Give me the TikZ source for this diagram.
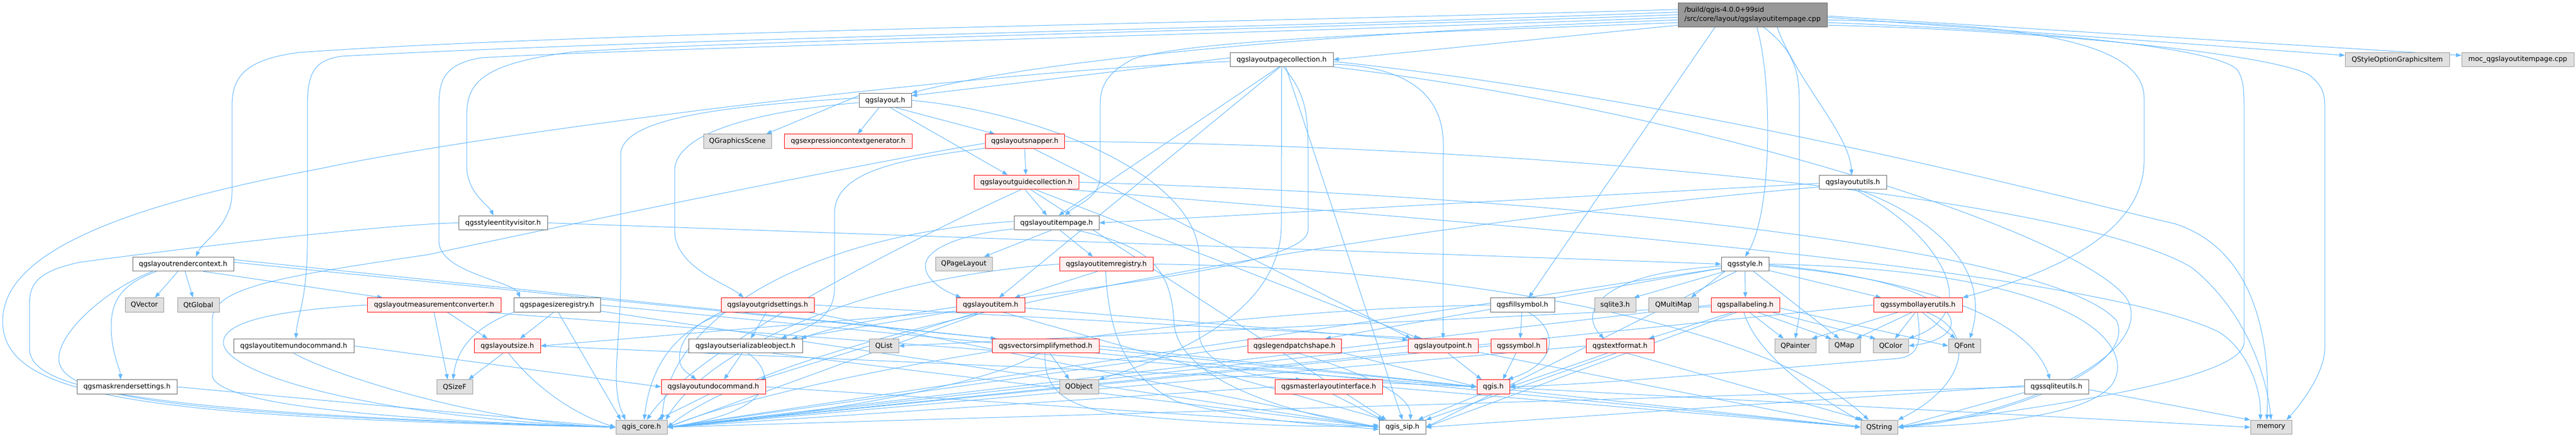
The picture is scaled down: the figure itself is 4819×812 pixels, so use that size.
\documentclass[tikz,border=0pt]{standalone}
\usepackage{fontspec}
\newfontfamily\dvs{DejaVu Sans}
\usetikzlibrary{arrows.meta,calc}
\pgfdeclarelayer{bg}
\pgfsetlayers{bg,main}
\definecolor{lc}{HTML}{63B8FF}
\definecolor{bw}{HTML}{666666}
\definecolor{bgn}{HTML}{999999}
\definecolor{fe}{HTML}{E0E0E0}
\definecolor{fr}{HTML}{FFF0F0}
\definecolor{br}{HTML}{FF0000}
\tikzset{
  nbase/.style={font=\dvs\fontsize{12.8}{15}\selectfont, inner sep=0pt, minimum height=26.5pt, line width=1pt, text=black},
  wn/.style={nbase, draw=bw, fill=white},
  rn/.style={nbase, draw=br, fill=fr},
  gn/.style={nbase, draw=bgn, fill=fe},
  mn/.style={nbase, draw=bw, fill=bgn},
  lnk/.style={draw=lc, line width=1pt, -{Triangle[length=10pt,width=7.5pt]}}
}
\begin{document}
\begin{tikzpicture}[x=1pt,y=-1pt]
\useasboundingbox (0,0) rectangle (4819,812);
% nodes
\node[mn, minimum width=279pt, minimum height=45pt, align=left, font=\dvs\fontsize{12.8}{17}\selectfont] (main) at (3278.5,27.5) {/build/qgis-4.0.0+99sid\\/src/core/layout/qgslayoutitempage.cpp};
\node[wn, minimum width=193pt] (pc) at (2397.5,111.5) {qgslayoutpagecollection.h};
\node[gn, minimum width=195pt] (qso) at (4484.5,111.5) {QStyleOptionGraphicsItem};
\node[gn, minimum width=210pt] (moc) at (4710,111.5) {moc\_qgslayoutitempage.cpp};
\node[wn, minimum width=98pt] (lay) at (1656,187.5) {qgslayout.h};
\node[gn, minimum width=127pt] (qgs) at (1379.5,264) {QGraphicsScene};
\node[rn, minimum width=239pt] (ecg) at (1586.5,264) {qgsexpressioncontextgenerator.h};
\node[rn, minimum width=148pt] (snap) at (1917,264) {qgslayoutsnapper.h};
\node[rn, minimum width=196pt] (guide) at (1920,340.5) {qgslayoutguidecollection.h};
\node[wn, minimum width=126pt] (lu) at (3466,340.5) {qgslayoututils.h};
\node[wn, minimum width=166pt] (sev) at (941,416.5) {qgsstyleentityvisitor.h};
\node[wn, minimum width=159pt] (ip) at (1976.5,416.5) {qgslayoutitempage.h};
\node[wn, minimum width=189pt] (rc) at (342.5,493.5) {qgslayoutrendercontext.h};
\node[gn, minimum width=106pt] (qpl) at (1803,493.5) {QPageLayout};
\node[rn, minimum width=175pt] (reg) at (2069.5,493.5) {qgslayoutitemregistry.h};
\node[wn, minimum width=89pt] (sty) at (3264.5,493.5) {qgsstyle.h};
\node[gn, minimum width=72pt] (qvec) at (270,570) {QVector};
\node[gn, minimum width=78pt] (qtg) at (371,570) {QtGlobal};
\node[rn, minimum width=250pt] (mc) at (812,570) {qgslayoutmeasurementconverter.h};
\node[wn, minimum width=162pt] (psr) at (1042,570) {qgspagesizeregistry.h};
\node[rn, minimum width=174pt] (grid) at (1436,570) {qgslayoutgridsettings.h};
\node[rn, minimum width=128pt] (li) at (1853,570) {qgslayoutitem.h};
\node[wn, minimum width=120pt] (fill) at (2848,570) {qgsfillsymbol.h};
\node[gn, minimum width=77pt] (sql3) at (3021.5,570) {sqlite3.h};
\node[gn, minimum width=93pt] (qmm) at (3130.5,570) {QMultiMap};
\node[rn, minimum width=128pt] (pal) at (3265,570) {qgspallabeling.h};
\node[rn, minimum width=166pt] (slu) at (3588,570) {qgssymbollayerutils.h};
\node[wn, minimum width=225pt] (iuc) at (549.5,646.5) {qgslayoutitemundocommand.h};
\node[rn, minimum width=124pt] (lsz) at (949,646.5) {qgslayoutsize.h};
\node[wn, minimum width=213pt] (ser) at (1394.5,646.5) {qgslayoutserializableobject.h};
\node[gn, minimum width=55pt] (qlist) at (1653.5,646.5) {QList};
\node[rn, minimum width=200pt] (vsm) at (1956,646.5) {qgsvectorsimplifymethod.h};
\node[rn, minimum width=175pt] (lps) at (2421.5,646.5) {qgslegendpatchshape.h};
\node[rn, minimum width=131pt] (lpt) at (2699.5,646.5) {qgslayoutpoint.h};
\node[rn, minimum width=104pt] (sym) at (2841,646.5) {qgssymbol.h};
\node[rn, minimum width=127pt] (tf) at (3030.5,646.5) {qgstextformat.h};
\node[gn, minimum width=77pt] (qpt) at (3358.5,646.5) {QPainter};
\node[gn, minimum width=59pt] (qmap) at (3450.5,646.5) {QMap};
\node[gn, minimum width=66pt] (qcol) at (3537,646.5) {QColor};
\node[gn, minimum width=60pt] (qfont) at (3675,646.5) {QFont};
\node[wn, minimum width=187pt] (mrs) at (237.5,723) {qgsmaskrendersettings.h};
\node[gn, minimum width=67pt] (qsz) at (850.5,723) {QSizeF};
\node[rn, minimum width=195pt] (luc) at (1334.5,723) {qgslayoutundocommand.h};
\node[gn, minimum width=73pt] (qobj) at (2018.5,723) {QObject};
\node[rn, minimum width=201pt] (mli) at (2485.5,723) {qgsmasterlayoutinterface.h};
\node[rn, minimum width=61pt] (qgish) at (2793.5,723) {qgis.h};
\node[wn, minimum width=120pt] (sqlu) at (3847,723) {qgssqliteutils.h};
\node[gn, minimum width=96pt] (core) at (1200,798.5) {qgis\_core.h};
\node[wn, minimum width=87pt] (sip) at (2623.5,798.5) {qgis\_sip.h};
\node[gn, minimum width=69pt] (qstr) at (3515.5,798.5) {QString};
\node[gn, minimum width=77pt] (mem) at (4248.5,798.5) {memory};

\begin{pgfonlayer}{bg}
\fill[white] (0,0) rectangle (4819,812);
% main
\draw[lnk] (main.188) -- (pc.east);
\draw[lnk] (main.184) .. controls (2500,60) and (1950,110) .. (lay.north east);
\draw[lnk] (main.176) .. controls (2200,45) and (1100,60) .. (560,98) .. controls (450,112) and (434,150) .. (434,200) -- (434,360) .. controls (434,420) and (380,450) .. ($(rc.north)+(24,0)$);
\draw[lnk] (main.178) .. controls (2300,55) and (1300,70) .. (640,105) .. controls (585,112) and (575,140) .. (575,200) -- (575,450) .. controls (575,560) and (556,590) .. ($(iuc.north)+(4,0)$);
\draw[lnk] (main.180) .. controls (2400,55) and (1400,75) .. (1072,97) .. controls (890,120) and (873,160) .. (873,220) -- (873,310) .. controls (873,360) and (915,385) .. ($(sev.north)+(-18,0)$);
\draw[lnk] (main.182) .. controls (2300,65) and (1200,90) .. (900,108) .. controls (830,120) and (821,150) .. (821,200) -- (821,450) .. controls (821,510) and (960,525) .. ($(psr.north)+(-69,0)$);
\draw[lnk] (main.186) .. controls (2700,60) and (2250,70) .. (2120,110) .. controls (2062,140) and (2058,170) .. (2058,200) -- (2058,330) .. controls (2058,370) and (2010,385) .. ($(ip.north)+(16,0)$);
\draw[lnk] ($(main.south)+(-70,0)$) -- ($(fill.north)+(12,0)$);
\draw[lnk] ($(main.south)+(8,0)$) .. controls (3316,150) and (3316,400) .. (sty.north);
\draw[lnk] ($(main.south)+(20,0)$) .. controls (3366,100) and (3366,150) .. (3366,200) -- (3366,590) -- (qpt.north);
\draw[lnk] ($(main.south)+(46,0)$) .. controls (3360,150) and (3460,250) .. ($(lu.north)+(-2,0)$);
\draw[lnk] (main.-4) .. controls (3800,45) and (4011,80) .. (4011,183) -- (4011,300) .. controls (4011,450) and (3800,520) .. (slu.north east);
\draw[lnk] (main.-6) .. controls (3900,60) and (4150,95) .. (4185,130) .. controls (4195,145) and (4198,160) .. (4198,200) -- (4198,640) .. controls (4198,720) and (3700,775) .. (qstr.east);
\draw[lnk] (main.-8) .. controls (3800,55) and (4250,100) .. (4320,140) .. controls (4345,160) and (4349,175) .. (4349,200) -- (4349,650) .. controls (4349,700) and (4300,760) .. ($(mem.north east)+(-10,0)$);
\draw[lnk] (main.-2) -- ($(qso.west)+(0,-8)$);
\draw[lnk] (main.-1) -- ($(moc.west)+(0,-8)$);
% pagecollection
\draw[lnk] (pc.178) -- (lay.10);
\draw[lnk] (pc.250) -- ($(ip.north)+(4,0)$);
\draw[lnk] (pc.258) -- ($(li.north)+(16,0)$);
\draw[lnk] (pc.south) -- (2397,420) .. controls (2397,600) and (2150,680) .. (qobj.north east);
\draw[lnk] (pc.-75) .. controls (2447,180) and (2447,220) .. (2447,300) -- (2447,430) .. controls (2447,520) and (1700,560) .. ($(ser.north east)+(-3,0)$);
\draw[lnk] (pc.-5) .. controls (2650,125) and (2700,190) .. (2700,270) -- (lpt.north);
\draw[lnk] (pc.182) .. controls (1800,135) and (900,250) .. (600,315) .. controls (200,390) and (5,480) .. (5,600) .. controls (5,740) and (250,780) .. (core.west);
\draw[lnk] (pc.-60) -- (sip.north);
\draw[lnk] (pc.-2) .. controls (3200,190) and (3900,380) .. (4068,418) .. controls (4200,460) and (4250,600) .. ($(mem.north)+(-8,0)$);
\draw[lnk] (pc.-8) .. controls (3200,210) and (3900,440) .. (3980,560) .. controls (4030,660) and (3800,770) .. (qstr.east);
% layout
\draw[lnk] (lay.170) -- ($(qgs.north east)+(-10,0)$);
\draw[lnk] (lay.-130) -- ($(ecg.north)+(18,0)$);
\draw[lnk] (lay.-35) -- ($(snap.north)+(-56,0)$);
\draw[lnk] (lay.-55) -- ($(guide.north)+(-35,0)$);
\draw[lnk] (lay.185) .. controls (1450,205) and (1262,240) .. (1262,320) -- (1262,430) .. controls (1262,500) and (1360,530) .. ($(grid.north)+(-45,0)$);
\draw[lnk] (lay.175) .. controls (1300,200) and (1161,230) .. (1161,290) -- (1161,520) .. controls (1161,650) and (1140,720) .. ($(core.north)+(-30,0)$);
\draw[lnk] (lay.east) .. controls (1950,210) and (2243,330) .. (2243,480) -- (2243,620) .. controls (2243,680) and (2330,705) .. (mli.165);
% snapper
\draw[lnk] (snap.south) -- ($(guide.north)+(-1,0)$);
\draw[lnk] (snap.183) .. controls (1700,290) and (1200,390) .. (800,476) .. controls (500,520) and (397,540) .. (397,600) -- (397,700) .. controls (397,770) and (900,790) .. (core.west);
\draw[lnk] (snap.190) .. controls (1650,300) and (1561,330) .. (1561,400) -- (1561,540) .. controls (1561,600) and (1500,615) .. ($(ser.north east)+(-40,0)$);
\draw[lnk] (snap.east) .. controls (3000,275) and (3900,380) .. (4100,500) .. controls (4200,580) and (4240,700) .. (mem.north);
\draw[lnk] (snap.-40) -- ($(lpt.north west)+(6,0)$);
% guide
\draw[lnk] (guide.-100) -- ($(ip.north)+(-18,0)$);
\draw[lnk] (guide.-125) .. controls (1700,450) and (1300,650) .. ($(core.north)+(10,0)$);
\draw[lnk] (guide.-40) -- ($(lpt.north)+(-44,0)$);
\draw[lnk] (guide.east) .. controls (3000,370) and (3850,470) .. (3960,600) .. controls (4000,700) and (3700,790) .. (qstr.east);
\draw[lnk] (guide.-10) .. controls (2800,420) and (3900,500) .. (4150,620) .. controls (4200,650) and (4230,720) .. ($(mem.north)+(-20,0)$);
\draw[lnk] (guide.-60) -- ($(sip.north)+(-30,0)$);
% itempage
\draw[lnk] (ip.-125) -- ($(qpl.north)+(38,0)$);
\draw[lnk] (ip.-65) -- ($(reg.north)+(-25,0)$);
\draw[lnk] (ip.188) .. controls (1780,440) and (1731,470) .. (1731,497) .. controls (1731,525) and (1770,545) .. ($(li.north)+(-55,0)$);
\draw[lnk] (ip.178) .. controls (1500,440) and (1250,600) .. ($(core.north east)+(-10,0)$);
\draw[lnk] (ip.-20) .. controls (2150,460) and (2190,500) .. (2196,600) .. controls (2200,720) and (2450,780) .. (sip.west);
% registry
\draw[lnk] (reg.-140) -- ($(li.north)+(45,0)$);
\draw[lnk] (reg.west) .. controls (1600,520) and (1320,660) .. ($(core.north east)+(-3,0)$);
\draw[lnk] (reg.-95) .. controls (2075,620) and (2100,700) .. (2200,750) .. controls (2350,790) and (2500,795) .. ($(sip.west)+(0,4)$);
\draw[lnk] (reg.east) .. controls (2700,500) and (3300,600) .. ($(qstr.north)+(-20,0)$);
% layoutitem
\draw[lnk] (li.190) -- (lsz.east);
\draw[lnk] (li.-5) -- (lpt.170);
\draw[lnk] (li.-150) -- ($(luc.north east)+(-10,0)$);
\draw[lnk] (li.-170) -- ($(ser.north east)+(-20,0)$);
\draw[lnk] (li.-135) -- (core.east);
\draw[lnk] (li.-30) -- ($(sip.north west)+(10,0)$);
% rendercontext
\draw[lnk] (rc.-125) -- ($(qvec.north)+(20,0)$);
\draw[lnk] (rc.-75) -- ($(qtg.north)+(-10,0)$);
\draw[lnk] ($(rc.south)+(-50,0)$) .. controls (230,530) and (208,560) .. (208,610) .. controls (208,660) and (225,690) .. ($(mrs.north)+(-12,0)$);
\draw[lnk] ($(rc.south)+(-57,0)$) .. controls (200,540) and (110,620) .. (110,670) .. controls (110,740) and (300,775) .. (core.west);
\draw[lnk] (rc.-20) -- ($(mc.north)+(-96,0)$);
\draw[lnk] (rc.5) -- ($(vsm.north west)+(8,0)$);
\draw[lnk] (rc.2) -- (qgish.west);
% mask, measconv, itemundo, styleentity, pagesize
\draw[lnk] (mrs.east) -- (core.west);
\draw[lnk] ($(mc.south)+(25,0)$) -- ($(lsz.north)+(-37,0)$);
\draw[lnk] (mc.south) -- ($(qsz.north)+(-13,0)$);
\draw[lnk] (mc.west) .. controls (520,580) and (418,600) .. (418,640) .. controls (418,700) and (700,780) .. (core.west);
\draw[lnk] (mc.-8) -- (qgish.west);
\draw[lnk] (iuc.south) .. controls (620,700) and (900,790) .. (core.west);
\draw[lnk] (iuc.east) -- (luc.west);
\draw[lnk] (sev.west) .. controls (700,420) and (300,470) .. (150,490) .. controls (55,510) and (55,540) .. (55,580) -- (55,650) .. controls (55,720) and (200,770) .. (core.west);
\draw[lnk] (sev.east) -- (sty.west);
\draw[lnk] (psr.south west) .. controls (890,610) and (855,650) .. ($(qsz.north)+(-3,0)$);
\draw[lnk] (psr.-115) -- ($(lsz.north)+(24,0)$);
\draw[lnk] (psr.-80) -- ($(core.north west)+(10,0)$);
\draw[lnk] (psr.east) -- (qstr.west);
\draw[lnk] (psr.-8) -- (sip.west);
% grid
\draw[lnk] (grid.-100) -- ($(ser.north)+(10,0)$);
\draw[lnk] (grid.south west) .. controls (1290,610) and (1271,640) .. (1271,670) .. controls (1271,690) and (1290,700) .. ($(luc.north)+(-32,0)$);
\draw[lnk] (grid.-170) .. controls (1250,620) and (1215,700) .. ($(core.north)+(5,0)$);
\draw[lnk] (grid.east) -- (lpt.160);
\draw[lnk] (grid.-10) -- (sip.west);
% size, serializable, undo
\draw[lnk] (lsz.-120) -- ($(qsz.north east)+(-8,0)$);
\draw[lnk] (lsz.-80) .. controls (990,710) and (1060,770) .. (core.west);
\draw[lnk] (lsz.east) -- (qgish.west);
\draw[lnk] (ser.-115) -- ($(luc.north)+(20,0)$);
\draw[lnk] (ser.-70) .. controls (1455,700) and (1450,770) .. (core.east);
\draw[lnk] (ser.-15) -- (sip.west);
\draw[lnk] (luc.-120) -- ($(core.north east)+(-19,0)$);
\draw[lnk] (luc.east) -- (sip.west);
% point, symbol, fill, textformat
\draw[lnk] (lpt.-55) -- ($(qgish.north)+(-22,0)$);
\draw[lnk] (lpt.west) -- (core.east);
\draw[lnk] (lpt.-10) -- (qstr.west);
\draw[lnk] (sym.-110) -- ($(qgish.north)+(18,0)$);
\draw[lnk] (sym.west) -- (core.east);
\draw[lnk] ($(fill.south)+(-1,0)$) -- ($(sym.north)+(3,0)$);
\draw[lnk] (fill.-50) .. controls (2920,620) and (2910,680) .. ($(qgish.north east)+(-4,0)$);
\draw[lnk] (fill.west) .. controls (2200,580) and (1500,700) .. (core.east);
\draw[lnk] (tf.west) -- (core.east);
\draw[lnk] (tf.-150) -- (qgish.east);
\draw[lnk] (tf.-120) -- (sip.north east);
\draw[lnk] (tf.-45) -- ($(qstr.north west)+(5,0)$);
% layoututils
\draw[lnk] (lu.182) -- (ip.east);
\draw[lnk] (lu.188) .. controls (2600,420) and (1500,600) .. (core.east);
\draw[lnk] (lu.-55) .. controls (3650,420) and (3720,520) .. ($(qfont.north)+(10,0)$);
\draw[lnk] (lu.-75) .. controls (3620,430) and (3720,580) .. (qcol.north east);
% style
\draw[lnk] (sty.south) -- (pal.north);
\draw[lnk] (sty.-15) -- ($(slu.north)+(-69,0)$);
\draw[lnk] ($(sty.south)+(16,0)$) -- ($(qmap.north)+(-10,0)$);
\draw[lnk] (sty.-160) -- ($(qmm.north)+(33,0)$);
\draw[lnk] (sty.200) -- ($(sql3.north east)+(-4,0)$);
\draw[lnk] (sty.190) -- ($(lps.north east)+(-30,0)$);
\draw[lnk] (sty.185) .. controls (3000,510) and (2950,580) .. ($(tf.north)+(-30,0)$);
\draw[lnk] (sty.-5) .. controls (3600,520) and (3800,600) .. ($(sqlu.north)+(-12,0)$);
\draw[lnk] (sty.east) .. controls (3900,505) and (4000,650) .. (3950,720) .. controls (3900,780) and (3700,795) .. (qstr.east);
\draw[lnk] (sty.-170) -- (core.east);
\draw[lnk] (sty.-140) -- (sip.east);
\draw[lnk] (sty.-2) .. controls (3700,530) and (3700,630) .. (qcol.east);
% pallabeling
\draw[lnk] (pal.-60) -- ($(qpt.north)+(-22,0)$);
\draw[lnk] (pal.-30) -- ($(qmap.north west)+(5,0)$);
\draw[lnk] (pal.-15) -- ($(qcol.north west)+(5,0)$);
\draw[lnk] (pal.-5) -- (qfont.west);
\draw[lnk] (pal.-100) .. controls (3290,680) and (3450,770) .. (qstr.160);
\draw[lnk] (pal.-150) -- ($(tf.north east)+(-10,0)$);
\draw[lnk] (pal.west) -- (core.east);
\draw[lnk] (pal.-140) -- (sip.east);
\draw[lnk] (pal.183) -- (qlist.east);
% symbollayerutils
\draw[lnk] (slu.-160) -- ($(qpt.north east)+(-8,0)$);
\draw[lnk] (slu.-130) -- ($(qmap.north east)+(-8,0)$);
\draw[lnk] (slu.-110) -- ($(qcol.north)+(8,0)$);
\draw[lnk] (slu.-60) -- ($(qfont.north)+(-17,0)$);
\draw[lnk] (slu.-40) .. controls (3700,620) and (3680,720) .. (qstr.north east);
\draw[lnk] (slu.west) -- (core.east);
\draw[lnk] (slu.-95) .. controls (3595,640) and (3590,665) .. (3550,670) .. controls (3300,690) and (3000,718) .. (qgish.east);
% sqliteutils, qgis.h
\draw[lnk] (sqlu.-170) -- (qstr.east);
\draw[lnk] (sqlu.-5) -- (mem.north west);
\draw[lnk] (sqlu.west) -- (core.east);
\draw[lnk] (sqlu.178) -- (sip.east);
\draw[lnk] (qgish.-150) -- ($(sip.north east)+(-15,0)$);
\draw[lnk] (qgish.-10) -- (qstr.west);
\draw[lnk] (qgish.-3) -- (mem.west);
% legend patch, master layout, vector simplify
\draw[lnk] (lps.west) -- (core.east);
\draw[lnk] (lps.-8) -- (qgish.west);
\draw[lnk] (lps.-60) .. controls (2560,700) and (2640,740) .. ($(sip.north)+(15,0)$);
\draw[lnk] (mli.-60) -- ($(sip.north west)+(8,0)$);
\draw[lnk] (mli.west) -- (core.east);
\draw[lnk] (mli.east) -- (qstr.west);
\draw[lnk] (vsm.-60) -- ($(qobj.north)+(-18,0)$);
\draw[lnk] (vsm.-130) .. controls (1850,720) and (1500,780) .. (core.east);
\draw[lnk] (vsm.-95) .. controls (1953,720) and (1980,760) .. (2100,775) .. controls (2300,795) and (2500,800) .. ($(sip.west)+(0,-4)$);
\draw[lnk] (vsm.east) -- (qgish.west);
\end{pgfonlayer}
\end{tikzpicture}
\end{document}
